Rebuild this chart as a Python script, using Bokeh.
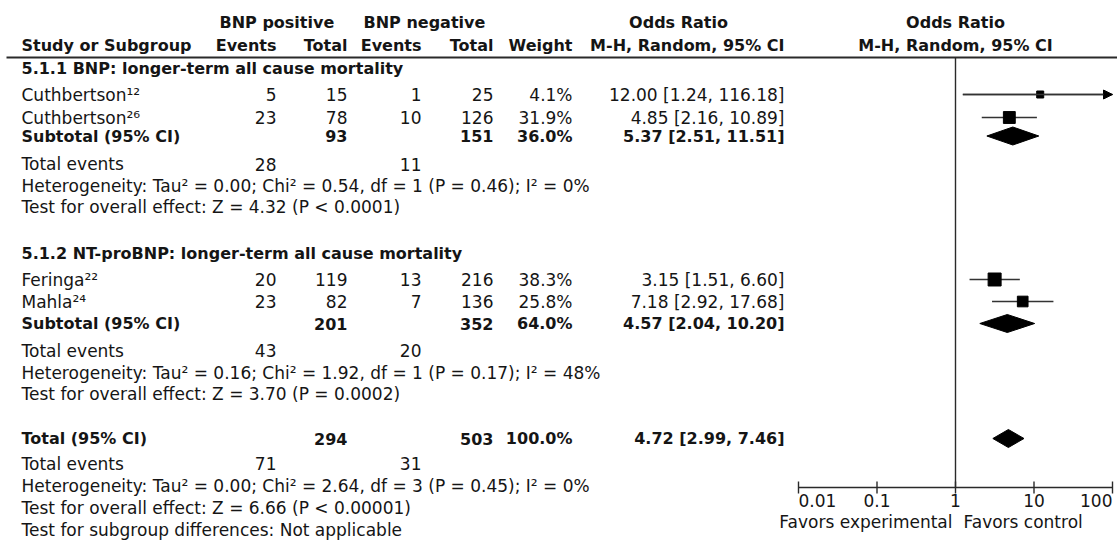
import math
from bokeh.plotting import figure
from bokeh.models import Range1d, LogScale, ColumnDataSource, Arrow, NormalHead
from bokeh.embed import file_html
from bokeh.resources import INLINE
from bokeh.core.properties import value, field

# ---------------- data ----------------
study_names = ["Cuthbertson", "Cuthbertson", "Feringa", "Mahla"]
study_refs = ["¹²", "²⁶", "²²", "²⁴"]
pos_events = [5, 23, 20, 23]
pos_total = [15, 78, 119, 82]
neg_events = [1, 10, 13, 7]
neg_total = [25, 126, 216, 136]
weights = [4.1, 31.9, 38.3, 25.8]
odds = [12.00, 4.85, 3.15, 7.18]
ci_low = [1.24, 2.16, 1.51, 2.92]
ci_high = [116.18, 10.89, 6.60, 17.68]

group_titles = ["5.1.1 BNP: longer-term all cause mortality",
                "5.1.2 NT-proBNP: longer-term all cause mortality"]
group_pos_events = [28, 43]
group_pos_total = [93, 201]
group_neg_events = [11, 20]
group_neg_total = [151, 352]
group_weight = [36.0, 64.0]
group_odds = [5.37, 4.57]
group_low = [2.51, 2.04]
group_high = [11.51, 10.20]
group_het = ["Heterogeneity: Tau² = 0.00; Chi² = 0.54, df = 1 (P = 0.46); I² = 0%",
             "Heterogeneity: Tau² = 0.16; Chi² = 1.92, df = 1 (P = 0.17); I² = 48%"]
group_test = ["Test for overall effect: Z = 4.32 (P < 0.0001)",
              "Test for overall effect: Z = 3.70 (P = 0.0002)"]

total_pos_events = 71
total_pos_total = 294
total_neg_events = 31
total_neg_total = 503
total_weight = 100.0
total_odds = 4.72
total_low = 2.99
total_high = 7.46
total_het = "Heterogeneity: Tau² = 0.00; Chi² = 2.64, df = 3 (P = 0.45); I² = 0%"
total_test = "Test for overall effect: Z = 6.66 (P < 0.00001)"
subgroup_test = "Test for subgroup differences: Not applicable"

axis_ticks = [0.01, 0.1, 1, 10, 100]
axis_tick_labels = ["0.01", "0.1", "1", "10", "100"]
favors_left = "Favors experimental"
favors_right = "Favors control"

# ---------------- layout ----------------
W, H = 1117, 544
FONT = "DejaVu Sans"
FS_REG = "17px"
FS_BOLD = "16px"
INK = "#151515"

X_NAME = 21
X_PE, X_PT, X_NE, X_NT, X_W, X_CI = 276, 347, 421, 493, 572, 784
X_ONE, DECADE = 955, 78.5  # px of OR=1 and px per decade

Y_HEAD1, Y_HEAD2, Y_RULE = 21.5, 45, 57
group_title_y = [68, 253]
study_y = [94, 117, 279, 301]
subtotal_y = [135.5, 323]
events_y = [163.5, 350]
het_y = [185, 372]
test_y = [206.5, 393]
Y_TOTAL, Y_TOT_EV, Y_TOT_HET, Y_TOT_TEST, Y_SUBG = 438, 463, 485, 507, 529
AXIS_Y, TICK = 487, 6
Y_TICKLAB, Y_FAVORS = 500, 521
DIAMOND_H = 9

p = figure(width=W, height=H, x_range=Range1d(0, W), y_range=Range1d(H, 0),
           output_backend="svg", toolbar_location=None, min_border=0,
           x_axis_location=None, y_axis_location=None)
p.grid.visible = False
p.outline_line_color = None
lo = 10 ** ((0 - X_ONE) / DECADE)
hi = 10 ** ((W - X_ONE) / DECADE)
p.extra_x_ranges = {"or": Range1d(lo, hi)}
p.extra_x_scales = {"or": LogScale()}

T = {"x": [], "y": [], "text": [], "align": [], "style": [], "fs": []}
TL = {"x": [], "y": [], "text": [], "align": [], "style": [], "fs": [], "dx": []}


def add(x, y, s, align="left", bold=False):
    T["x"].append(x); T["y"].append(y); T["text"].append(str(s))
    T["align"].append(align); T["style"].append("bold" if bold else "normal")
    T["fs"].append(FS_BOLD if bold else FS_REG)


def addl(x, y, s, align="center", bold=False, dx=0):
    TL["x"].append(x); TL["y"].append(y); TL["text"].append(str(s))
    TL["align"].append(align); TL["style"].append("bold" if bold else "normal")
    TL["fs"].append(FS_BOLD if bold else FS_REG); TL["dx"].append(dx)


def ci_text(o, l, h):
    return f"{o:.2f} [{l:.2f}, {h:.2f}]"


# headers
add(219, Y_HEAD1, "BNP positive", bold=True)
add(363, Y_HEAD1, "BNP negative", bold=True)
add(678, Y_HEAD1, "Odds Ratio", "center", True)
add(X_NAME, Y_HEAD2, "Study or Subgroup", bold=True)
add(X_PE, Y_HEAD2, "Events", "right", True)
add(X_PT, Y_HEAD2, "Total", "right", True)
add(X_NE, Y_HEAD2, "Events", "right", True)
add(X_NT, Y_HEAD2, "Total", "right", True)
add(X_W, Y_HEAD2, "Weight", "right", True)
add(X_CI, Y_HEAD2, "M-H, Random, 95% CI", "right", True)
addl(1, Y_HEAD1, "Odds Ratio", bold=True)
addl(1, Y_HEAD2, "M-H, Random, 95% CI", bold=True)

for g in range(2):
    add(X_NAME, group_title_y[g], group_titles[g], bold=True)
    add(X_NAME, subtotal_y[g], "Subtotal (95% CI)", bold=True)
    add(X_PT, subtotal_y[g], group_pos_total[g], "right", True)
    add(X_NT, subtotal_y[g], group_neg_total[g], "right", True)
    add(X_W, subtotal_y[g], f"{group_weight[g]:.1f}%", "right", True)
    add(X_CI, subtotal_y[g], ci_text(group_odds[g], group_low[g], group_high[g]), "right", True)
    add(X_NAME, events_y[g], "Total events")
    add(X_PE, events_y[g], group_pos_events[g], "right")
    add(X_NE, events_y[g], group_neg_events[g], "right")
    add(X_NAME, het_y[g], group_het[g])
    add(X_NAME, test_y[g], group_test[g])

for i in range(len(study_names)):
    y = study_y[i]
    add(X_NAME, y, study_names[i] + study_refs[i])
    add(X_PE, y, pos_events[i], "right")
    add(X_PT, y, pos_total[i], "right")
    add(X_NE, y, neg_events[i], "right")
    add(X_NT, y, neg_total[i], "right")
    add(X_W, y, f"{weights[i]:.1f}%", "right")
    add(X_CI, y, ci_text(odds[i], ci_low[i], ci_high[i]), "right")

add(X_NAME, Y_TOTAL, "Total (95% CI)", bold=True)
add(X_PT, Y_TOTAL, total_pos_total, "right", True)
add(X_NT, Y_TOTAL, total_neg_total, "right", True)
add(X_W, Y_TOTAL, f"{total_weight:.1f}%", "right", True)
add(X_CI, Y_TOTAL, ci_text(total_odds, total_low, total_high), "right", True)
add(X_NAME, Y_TOT_EV, "Total events")
add(X_PE, Y_TOT_EV, total_pos_events, "right")
add(X_NE, Y_TOT_EV, total_neg_events, "right")
add(X_NAME, Y_TOT_HET, total_het)
add(X_NAME, Y_TOT_TEST, total_test)
add(X_NAME, Y_SUBG, subgroup_test)

# axis tick labels and favors labels
tick_aligns = ["left", "center", "center", "center", "right"]
for t, lab, al in zip(axis_ticks, axis_tick_labels, tick_aligns):
    addl(t, Y_TICKLAB, lab, al)
addl(1, Y_FAVORS, favors_left, "right", dx=-3)
addl(1, Y_FAVORS, favors_right, "left", dx=8)

common = dict(text_font=value(FONT), text_font_size=field("fs"), text_baseline="middle",
              text_color=INK, text_align=field("align"), text_font_style=field("style"))
p.text(x="x", y="y", text="text", source=ColumnDataSource(T), **common)
p.text(x="x", y="y", text="text", x_offset="dx", source=ColumnDataSource(TL),
       x_range_name="or", **common)

# header rule
p.segment(x0=[6], x1=[W], y0=[Y_RULE], y1=[Y_RULE], line_color="#2a2a2a", line_width=2)

# null line & axis
p.segment(x0=[1], x1=[1], y0=[Y_RULE], y1=[AXIS_Y], line_color="#2a2a2a", line_width=1.4,
          x_range_name="or")
p.segment(x0=[axis_ticks[0]], x1=[axis_ticks[-1]], y0=[AXIS_Y], y1=[AXIS_Y],
          line_color="#2a2a2a", line_width=1.4, x_range_name="or")
p.segment(x0=axis_ticks, x1=axis_ticks, y0=[AXIS_Y - TICK] * len(axis_ticks),
          y1=[AXIS_Y + TICK] * len(axis_ticks), line_color="#2a2a2a", line_width=1.4,
          x_range_name="or")

# study CIs and squares
amax = axis_ticks[-1]
ci_src = ColumnDataSource(dict(lo=ci_low, hi=[min(h, amax) for h in ci_high], y=study_y,
                               o=odds, s=[max(7, 2.1 * math.sqrt(w)) for w in weights]))
p.segment(x0="lo", x1="hi", y0="y", y1="y", source=ci_src, line_color="#333333",
          line_width=1.3, x_range_name="or")
p.scatter(x="o", y="y", size="s", marker="square", source=ci_src, fill_color="black",
          line_color="black", x_range_name="or")

over = [i for i in range(len(ci_high)) if ci_high[i] > amax]
if over:
    arr_src = ColumnDataSource(dict(xs=[ci_low[i] for i in over], xe=[amax] * len(over),
                                    y=[study_y[i] for i in over]))
    p.add_layout(Arrow(end=NormalHead(size=9, fill_color="black", line_color="black"),
                       x_start="xs", y_start="y", x_end="xe", y_end="y", source=arr_src,
                       line_color="#333333", line_width=1.3, x_range_name="or"))

# diamonds
d_o = group_odds + [total_odds]
d_l = group_low + [total_low]
d_h = group_high + [total_high]
d_y = subtotal_y + [Y_TOTAL]
xs = [[l, o, h, o] for o, l, h in zip(d_o, d_l, d_h)]
ys = [[y, y - DIAMOND_H, y, y + DIAMOND_H] for y in d_y]
p.patches(xs=xs, ys=ys, fill_color="black", line_color="black", x_range_name="or")

open("out.html", "w").write(file_html(p, INLINE))
